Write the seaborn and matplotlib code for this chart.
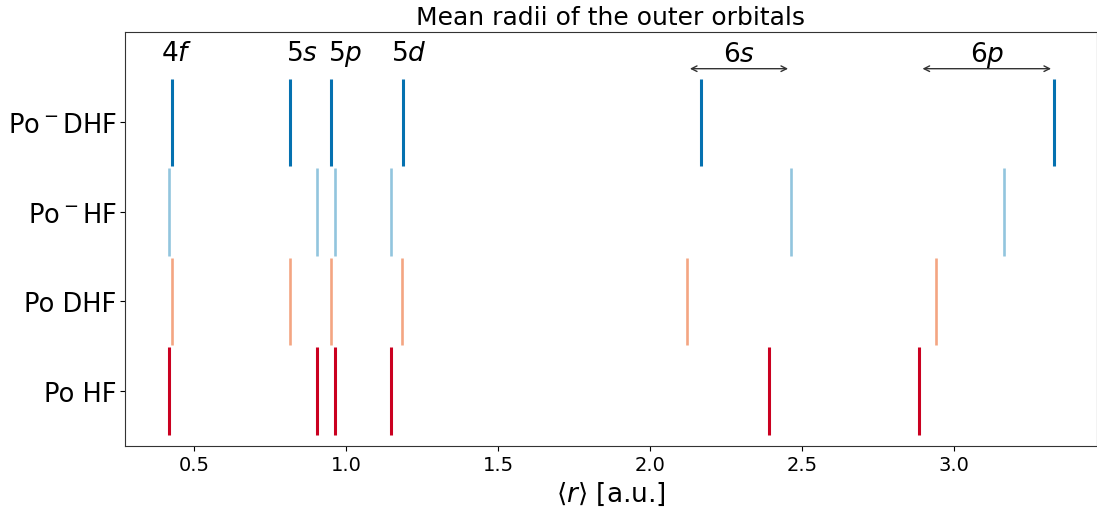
import numpy as np
import pandas as pd
import matplotlib
matplotlib.use("Agg")
import matplotlib.pyplot as plt
import seaborn as sns

# ---- data ----
systems = ["Po HF", "Po DHF", "Po$^-$HF", "Po$^-$DHF"]
orbitals = ["4f", "5s", "5p", "5d", "6s", "6p"]
po_hf = [0.419, 0.906, 0.964, 1.149, 2.390, 2.886]
po_dhf = [0.428, 0.816, 0.950, 1.184, 2.121, 2.940]
pom_hf = [0.419, 0.906, 0.964, 1.149, 2.464, 3.163]
pom_dhf = [0.428, 0.816, 0.950, 1.186, 2.167, 3.329]
colors = ["#ca0020", "#f4a582", "#92c5de", "#0571b0"]

df = pd.DataFrame({
    "system": np.repeat(systems, len(orbitals)),
    "orbital": orbitals * len(systems),
    "r": po_hf + po_dhf + pom_hf + pom_dhf,
})

sns.set_style("ticks", rc={
    "text.color": "black", "axes.labelcolor": "black",
    "xtick.color": "black", "ytick.color": "black",
    "axes.edgecolor": "#333333",
    "xtick.major.size": 3.5, "ytick.major.size": 3.5,
    "xtick.major.width": 0.8, "ytick.major.width": 0.8,
})
plt.rcParams["font.family"] = ["DejaVu Sans"]
plt.rcParams["mathtext.fontset"] = "dejavusans"

fig = plt.figure(figsize=(10.97, 5.10), dpi=100)
ax = fig.add_axes([125 / 1097, 1 - 446.5 / 510, 1 - 125 / 1097, (446.5 - 33) / 510])

widths = [2.2, 1.9, 1.9, 2.2]
for i, (sysname, col) in enumerate(zip(systems, colors)):
    sub = df[df["system"] == sysname]
    ax.vlines(sub["r"], i - 0.49, i + 0.49, color=col, lw=widths[i])

ax.set_yticks(range(len(systems)))
ax.set_yticklabels(systems, fontsize=18.5)
ax.tick_params(axis="y", pad=2.5)
ax.tick_params(axis="x", labelsize=14)
ax.set_xlim(0.273, 3.47)
ax.set_ylim(-0.61, 4.01)
ax.set_xticks([0.5, 1.0, 1.5, 2.0, 2.5, 3.0])

# inner-shell labels
inner_x = {"4f": 0.442, "5s": 0.854, "5p": 0.997, "5d": 1.205}
for orb, xpos in inner_x.items():
    ax.text(xpos, 3.78, f"${orb[0]}{orb[1]}$", fontsize=19, ha="center", va="center")

# outer-shell arrows
for orb in ["6s", "6p"]:
    vals = df.loc[df["orbital"] == orb, "r"]
    lo, hi = vals.min(), vals.max()
    ax.annotate("", xy=(lo + 0.01, 3.60), xytext=(hi - 0.01, 3.60),
                arrowprops=dict(arrowstyle="<->", color="#333333", lw=1,
                                shrinkA=0, shrinkB=0))
    ax.text((lo + hi) / 2, 3.76, f"${orb[0]}{orb[1]}$", fontsize=19,
            ha="center", va="center")

ax.set_title("Mean radii of the outer orbitals", fontsize=18, pad=6)
ax.set_xlabel(r"$\langle r \rangle$ [a.u.]", fontsize=19, labelpad=4)

fig.savefig("out.png", dpi=100)
